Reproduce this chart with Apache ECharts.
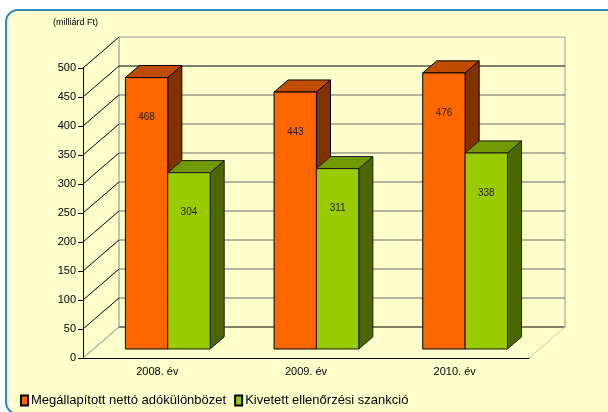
<!DOCTYPE html>
<html>
<head>
    <meta charset="utf-8">
    <title>Adókülönbözet és szankció</title>
    <script src="https://cdn.jsdelivr.net/npm/echarts@6/dist/echarts.min.js"></script>
</head>
<style>
    html, body { margin: 0; padding: 0; background: #fff; width: 608px; height: 412px; overflow: hidden; }
    #wrap { position: relative; width: 608px; height: 412px; overflow: hidden; }
    #frame {
        position: absolute; left: 5px; top: 9px; width: 800px; height: 402px;
        border: 2px solid #2C8DB0; border-radius: 13px; background: #FFFFCC;
    }
    #chart { position: absolute; left: 0; top: 0; width: 608px; height: 412px; }
</style>
<body>
<div id="wrap">
    <div id="frame"></div>
    <div id="chart"></div>
</div>

<script>
    var categories = ['2008. év', '2009. év', '2010. év'];
    var seriesNames = ['Megállapított nettó adókülönbözet', 'Kivetett ellenőrzési szankció'];
    var adokulonbozet = [468, 443, 476];
    var szankcio = [304, 311, 338];
    var yTicks = [0, 50, 100, 150, 200, 250, 300, 350, 400, 450, 500];

    // 3D hatás: a mélység eltolása pixelben, és a hasábok helye a mélységben
    var DEPTH = [36, -31];
    var FRONT = 0.29, BACK = 0.68;
    var BAR_FRAC = 0.285;

    var faces = [
        { front: '#FF6600', top: '#C04C00', side: '#803300', border: '#000' },
        { front: '#99CC00', top: '#739900', side: '#4D6600', border: '#1a1a1a' }
    ];

    function pairs(arr) {
        return arr.map(function (v, i) { return [i, v]; });
    }

    function renderWalls(params, api) {
        var v = api.value(1);
        var y = api.coord([0, v])[1];
        var cs = params.coordSys;
        var x0 = cs.x, x1 = cs.x + cs.width;
        var isZero = v === 0;
        var children = [
            { type: 'line', shape: { x1: x0, y1: y, x2: x0 + DEPTH[0], y2: y + DEPTH[1] },
              style: { stroke: isZero ? '#888' : '#000', lineWidth: 1 } },
            { type: 'line', shape: { x1: x0 + DEPTH[0], y1: y + DEPTH[1], x2: x1 + DEPTH[0], y2: y + DEPTH[1] },
              style: { stroke: (isZero || v === 450) ? '#000' : (v === yTicks[yTicks.length - 1] ? '#999' : '#666'), lineWidth: 1 } }
        ];
        if (isZero) {
            var yTop = api.coord([0, yTicks[yTicks.length - 1]])[1] + DEPTH[1];
            children.push(
                { type: 'line', shape: { x1: x1, y1: y, x2: x1 + DEPTH[0], y2: y + DEPTH[1] },
                  style: { stroke: '#c8c8a8', lineWidth: 1 } },
                { type: 'line', shape: { x1: x0 + DEPTH[0], y1: yTop, x2: x0 + DEPTH[0], y2: y + DEPTH[1] },
                  style: { stroke: '#888', lineWidth: 1 } },
                { type: 'line', shape: { x1: x1 + DEPTH[0], y1: yTop, x2: x1 + DEPTH[0], y2: y + DEPTH[1] },
                  style: { stroke: '#999', lineWidth: 1 } }
            );
        }
        return { type: 'group', children: children };
    }

    function makeBarRenderer(side) {
        var c = faces[side];
        return function (params, api) {
            var v = api.value(1);
            var p = api.coord([api.value(0), v]);
            var base = api.coord([api.value(0), 0]);
            var w = api.size([1, 0])[0] * BAR_FRAC;
            var ox = DEPTH[0] * FRONT, oy = DEPTH[1] * FRONT;
            var dx = DEPTH[0] * (BACK - FRONT), dy = DEPTH[1] * (BACK - FRONT);
            var xl = p[0] + ox + (side === 0 ? -w : 0);
            var xr = xl + w;
            var yt = p[1] + oy, yb = base[1] + oy;
            var st = { stroke: c.border, lineWidth: 1 };
            return {
                type: 'group',
                children: [
                    { type: 'polygon', shape: { points: [[xr, yt], [xr + dx, yt + dy], [xr + dx, yb + dy], [xr, yb]] },
                      style: Object.assign({ fill: c.side }, st) },
                    { type: 'polygon', shape: { points: [[xl, yt], [xl + dx, yt + dy], [xr + dx, yt + dy], [xr, yt]] },
                      style: Object.assign({ fill: c.top }, st) },
                    { type: 'rect', shape: { x: xl, y: yt, width: w, height: yb - yt },
                      style: Object.assign({ fill: c.front }, st) },
                    { type: 'text', style: { text: String(v), x: (xl + xr) / 2, y: yt + 40,
                      align: 'center', verticalAlign: 'middle', fontSize: 10, fill: '#222',
                      fontFamily: 'Liberation Sans, Arial' } }
                ]
            };
        };
    }

    var chart = echarts.init(document.getElementById('chart'));
    var option = {
        backgroundColor: 'transparent',
        animation: false,
        textStyle: { fontFamily: 'Liberation Sans, Arial' },
        title: {
            text: '(milliárd Ft)', left: 48, top: 13,
            textStyle: { fontSize: 9, fontWeight: 'normal', color: '#000' }
        },
        legend: {
            data: seriesNames,
            left: 15, top: 389,
            icon: 'rect', itemWidth: 7, itemHeight: 10, itemGap: 8,
            textStyle: { fontSize: 13, color: '#000', padding: [0, 0, 0, -2] }
        },
        grid: { left: 83, right: 79, top: 68, bottom: 54 },
        xAxis: {
            type: 'category',
            data: categories,
            axisLine: { lineStyle: { color: '#000', width: 1 } },
            axisTick: { length: 4, lineStyle: { color: '#000' } },
            axisLabel: { fontSize: 11, color: '#000', margin: 8 },
            splitLine: { show: false }
        },
        yAxis: {
            type: 'value',
            min: 0, max: 500, interval: 50,
            axisLine: { show: true, lineStyle: { color: '#000', width: 1 } },
            axisTick: { show: true, length: 5, lineStyle: { color: '#000' } },
            axisLabel: { fontSize: 11, color: '#000', margin: 7 },
            splitLine: { show: false }
        },
        series: [
            {
                type: 'custom', name: 'walls', silent: true, z: 1,
                data: yTicks.map(function (v) { return [0, v]; }),
                encode: { x: 0, y: 1 },
                renderItem: renderWalls
            },
            {
                type: 'custom', name: seriesNames[0], z: 3,
                itemStyle: { color: faces[0].front, borderColor: '#000', borderWidth: 1 },
                data: pairs(adokulonbozet),
                encode: { x: 0, y: 1 },
                renderItem: makeBarRenderer(0)
            },
            {
                type: 'custom', name: seriesNames[1], z: 4,
                itemStyle: { color: faces[1].front, borderColor: '#000', borderWidth: 1 },
                data: pairs(szankcio),
                encode: { x: 0, y: 1 },
                renderItem: makeBarRenderer(1)
            }
        ]
    };
    chart.setOption(option);
</script>

</body>
</html>
